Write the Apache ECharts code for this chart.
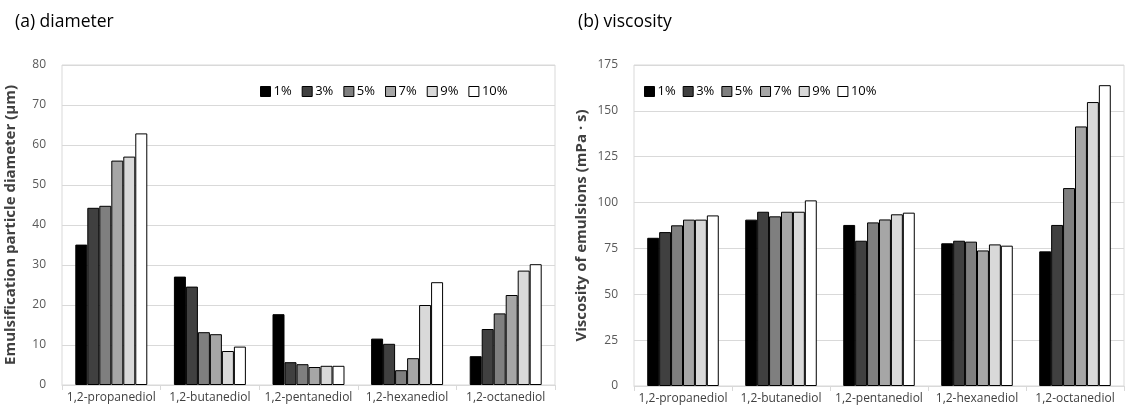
<!DOCTYPE html>
<html>
<head>
<meta charset="utf-8">
<script src="https://cdn.jsdelivr.net/npm/echarts@6/dist/echarts.min.js"></script>
<style>
html,body{margin:0;padding:0;background:#fff;}
#chart{width:1126px;height:414px;}
</style>
</head>
<body>
<div id="chart"></div>
<script>
const categories = ['1,2-propanediol','1,2-butanediol','1,2-pentanediol','1,2-hexanediol','1,2-octanediol'];
const seriesNames = ['1%','3%','5%','7%','9%','10%'];
const seriesColors = ['#000000','#404040','#7f7f7f','#a6a6a6','#d9d9d9','#ffffff'];

// (a) diameter, per concentration, over categories
const diameter1 = [35.1, 27.1, 17.7, 11.6, 7.2];
const diameter3 = [44.3, 24.6, 5.7, 10.3, 14.0];
const diameter5 = [44.8, 13.2, 5.2, 3.7, 17.9];
const diameter7 = [56.1, 12.7, 4.5, 6.7, 22.5];
const diameter9 = [57.1, 8.5, 4.8, 20.0, 28.6];
const diameter10 = [62.9, 9.6, 4.8, 25.7, 30.2];

// (b) viscosity
const viscosity1 = [80.8, 90.7, 87.8, 77.8, 73.4];
const viscosity3 = [83.9, 95.0, 79.2, 79.2, 87.8];
const viscosity5 = [87.6, 92.5, 89.2, 78.7, 107.9];
const viscosity7 = [90.7, 95.0, 90.8, 73.9, 141.5];
const viscosity9 = [90.7, 95.0, 93.6, 77.2, 154.8];
const viscosity10 = [93.0, 101.2, 94.5, 76.5, 164.0];

const diameterData = [diameter1, diameter3, diameter5, diameter7, diameter9, diameter10];
const viscosityData = [viscosity1, viscosity3, viscosity5, viscosity7, viscosity9, viscosity10];

const FONT = '"Open Sans", sans-serif';

function xAxisCfg(gi){
  return {
    type:'category', gridIndex:gi, data:categories,
    axisLine:{lineStyle:{color:'#d9d9d9'}},
    axisTick:{show:true, length:5, lineStyle:{color:'#d9d9d9'}},
    axisLabel:{color:'#404040', fontSize:12, fontFamily:FONT, margin:7, interval:0}
  };
}
function yAxisCfg(gi, max, interval, name, gap){
  return {
    type:'value', gridIndex:gi, min:0, max:max, interval:interval,
    name:name, nameLocation:'middle', nameGap:gap,
    nameTextStyle:{fontSize:15, fontWeight:'bold', color:'#404040', fontFamily:FONT},
    axisLine:{show:false}, axisTick:{show:false},
    axisLabel:{color:'#595959', fontSize:12, fontFamily:FONT, margin:16},
    splitLine:{lineStyle:{color:'#d9d9d9'}}
  };
}

const series = [];
seriesNames.forEach((n,i)=>{
  series.push({
    type:'bar', name:n, xAxisIndex:0, yAxisIndex:0, data:diameterData[i],
    barGap:'0%', barCategoryGap:'27%',
    itemStyle:{color:seriesColors[i], borderColor:'#000', borderWidth:1},
    legendHoverLink:false
  });
});
seriesNames.forEach((n,i)=>{
  series.push({
    type:'bar', name:n, xAxisIndex:1, yAxisIndex:1, data:viscosityData[i],
    barGap:'0%', barCategoryGap:'27%',
    itemStyle:{color:seriesColors[i], borderColor:'#000', borderWidth:1},
    legendHoverLink:false
  });
});

const legendBase = {
  data:seriesNames, orient:'horizontal', icon:'rect', itemWidth:10, itemHeight:10,
  textStyle:{fontSize:13, color:'#000', fontFamily:FONT, padding:[0,0,0,-2]},
  itemStyle:{borderColor:'#000', borderWidth:1},
  selectedMode:false
};

const chart = echarts.init(document.getElementById('chart'), null, {renderer:'canvas'});
chart.setOption({
  animation:false,
  backgroundColor:'#fff',
  title:[
    {text:'(a) diameter', left:10, top:8, textStyle:{fontSize:17.5, fontWeight:'normal', color:'#000', fontFamily:FONT}},
    {text:'(b) viscosity', left:573, top:8, textStyle:{fontSize:17.5, fontWeight:'normal', color:'#000', fontFamily:FONT}}
  ],
  legend:[
    Object.assign({}, legendBase, {left:255, top:80, itemGap:10}),
    Object.assign({}, legendBase, {left:639, top:80, itemGap:7})
  ],
  grid:[
    {left:62, top:65, width:493, height:320, show:true, borderColor:'#d9d9d9', borderWidth:1},
    {left:634, top:65, width:490, height:321, show:true, borderColor:'#d9d9d9', borderWidth:1}
  ],
  xAxis:[xAxisCfg(0), xAxisCfg(1)],
  yAxis:[
    yAxisCfg(0, 80, 10, 'Emulsification particle diameter (μm)', 44),
    yAxisCfg(1, 175, 25, 'Viscosity of emulsions (mPa · s)', 45)
  ],
  series:series
});
</script>
</body>
</html>
